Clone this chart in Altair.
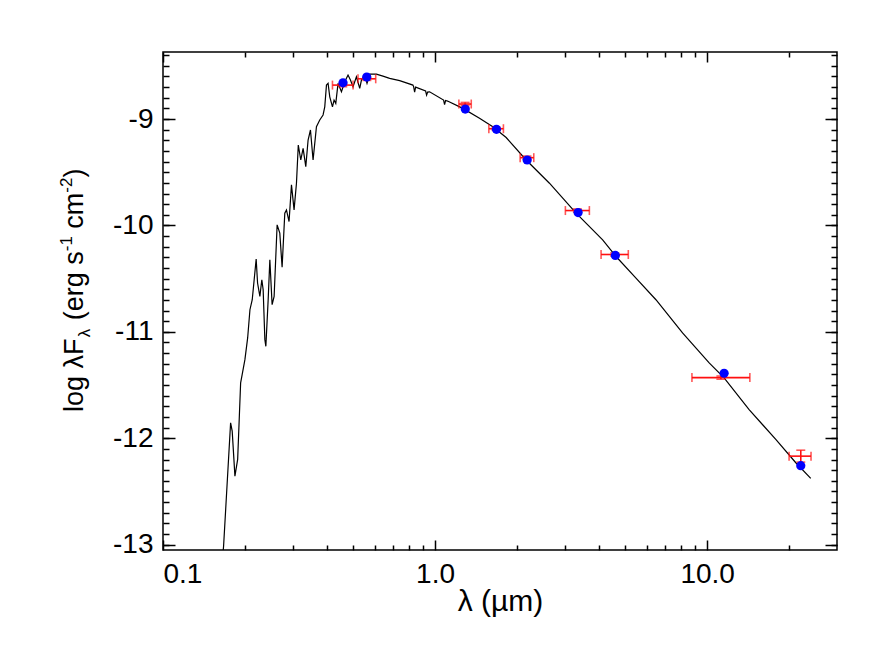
import altair as alt
import pandas as pd

# ---- model spectrum (wavelength in micron, log lambda F_lambda) ----
spec_lam = [0.1646, 0.1670, 0.1772, 0.1796, 0.1838, 0.1881, 0.1929, 0.1954, 0.2000, 0.2047,
            0.2087, 0.2128, 0.2163, 0.2200, 0.2226, 0.2270, 0.2308, 0.2334, 0.2368, 0.2388,
            0.2435, 0.2470, 0.2518, 0.2561, 0.2627, 0.2687, 0.2740, 0.2803, 0.2843, 0.2906,
            0.2966, 0.3032, 0.3094, 0.3142, 0.3209, 0.3273, 0.3348, 0.3414, 0.3483, 0.3561,
            0.3664, 0.3768, 0.3875, 0.3931, 0.3988, 0.4043, 0.4101, 0.4196, 0.4253, 0.4315,
            0.4399, 0.4527, 0.4655, 0.4787, 0.4885, 0.4994, 0.5139, 0.5285, 0.5362, 0.5513,
            0.5621, 0.5750, 0.6085, 0.6433, 0.6808, 0.7409, 0.8288, 0.8339, 0.8410, 0.8481,
            0.9229, 0.9308, 0.9388, 0.9545, 1.0745, 1.0836, 1.0927, 1.1112, 1.2647, 1.4564,
            1.6298, 1.8250, 2.161, 2.632, 3.298, 4.129, 4.624, 5.474, 6.481, 8.118,
            10.17, 11.54, 14.26, 17.87, 21.17, 24.02]
spec_logf = [-13.193, -13.012, -11.855, -11.933, -12.356, -12.199, -11.479, -11.401, -11.261, -11.057,
             -10.792, -10.698, -10.510, -10.316, -10.541, -10.667, -10.510, -10.604, -11.073, -11.136,
             -10.698, -10.323, -10.745, -10.667, -9.994, -10.072, -10.393, -9.885, -9.854, -9.963,
             -9.619, -9.854, -9.603, -9.244, -9.385, -9.275, -9.447, -9.197, -9.103, -9.385,
             -9.072, -9.009, -8.962, -8.885, -8.681, -8.665, -8.791, -8.885, -8.822, -8.853,
             -8.665, -8.744, -8.650, -8.587, -8.634, -8.697, -8.603, -8.712, -8.634, -8.587,
             -8.665, -8.578, -8.578, -8.597, -8.618, -8.639, -8.681, -8.695, -8.747, -8.700,
             -8.737, -8.775, -8.747, -8.744, -8.822, -8.864, -8.826, -8.831, -8.900, -8.993,
             -9.072, -9.174, -9.385, -9.603, -9.885, -10.135, -10.292, -10.495, -10.698, -11.010,
             -11.292, -11.432, -11.730, -12.011, -12.230, -12.377]

# ---- synthetic photometry (blue) ----
phot_lam = [0.4588, 0.5608, 1.291, 1.681, 2.180, 3.354, 4.597, 11.54, 22.08]
phot_logf = [-8.660, -8.606, -8.906, -9.097, -9.385, -9.879, -10.282, -11.389, -12.258]

# ---- observed photometry (red, with band widths and errors) ----
obs_lam = [0.4578, 0.5613, 1.289, 1.676, 2.176, 3.334, 4.572, 11.23, 22.08]
obs_lam_lo = [0.4196, 0.5208, 1.223, 1.576, 2.054, 3.012, 4.074, 8.79, 20.0]
obs_lam_hi = [0.4994, 0.6050, 1.358, 1.783, 2.305, 3.690, 5.130, 14.35, 24.08]
obs_logf = [-8.681, -8.622, -8.859, -9.091, -9.363, -9.860, -10.273, -11.430, -12.168]
obs_err = [0.015, 0.015, 0.015, 0.015, 0.015, 0.015, 0.015, 0.015, 0.056]

x_major = [0.1, 1.0, 10.0]
x_minor = [0.2, 0.3, 0.4, 0.5, 0.6, 0.7, 0.8, 0.9, 2, 3, 4, 5, 6, 7, 8, 9, 20]
y_major = [-13, -12, -11, -10, -9]
y_minor = [round(-13.0 + 0.1 * i, 1) for i in range(47)]

FONT = "Liberation Sans"
F_TICK = 28
F_XTITLE = 30
F_TITLE = 27

spec = pd.DataFrame({"lam": spec_lam, "logf": spec_logf})
phot = pd.DataFrame({"lam": phot_lam, "logf": phot_logf})
obs = pd.DataFrame({"lam": obs_lam, "lo": obs_lam_lo, "hi": obs_lam_hi, "logf": obs_logf,
                    "ylo": [f - e for f, e in zip(obs_logf, obs_err)],
                    "yhi": [f + e for f, e in zip(obs_logf, obs_err)]})

xs = alt.Scale(type="log", domain=[0.1, 30], nice=False)
ys = alt.Scale(domain=[-13.05, -8.37], nice=False, zero=False)


def tick_axis(orient, values, size, **kw):
    return alt.Axis(orient=orient, values=values, offset=-size, tickSize=size, tickWidth=1.5,
                    tickColor="black", domain=False, grid=False, title=None, **kw)


layers = []
# x axes (bottom labeled + major, bottom minor, top major, top minor)
layers.append(alt.Chart(spec).mark_point(opacity=0).encode(
    x=alt.X("lam:Q", scale=xs, axis=tick_axis(
        "bottom", x_major, 10, labels=True, labelFont=FONT, labelFontSize=F_TICK,
        labelColor="black", labelPadding=10, labelOverlap=False,
        labelExpr="format(datum.value, '.1f')"))))
layers.append(alt.Chart(spec).mark_point(opacity=0).encode(
    x=alt.X("lam:Q", scale=xs, axis=tick_axis("bottom", x_minor, 5, labels=False))))
layers.append(alt.Chart(spec).mark_point(opacity=0).encode(
    x=alt.X("lam:Q", scale=xs, axis=tick_axis("top", x_major, 10, labels=False))))
layers.append(alt.Chart(spec).mark_point(opacity=0).encode(
    x=alt.X("lam:Q", scale=xs, axis=tick_axis("top", x_minor, 5, labels=False))))
# y axes
layers.append(alt.Chart(spec).mark_point(opacity=0).encode(
    y=alt.Y("logf:Q", scale=ys, axis=tick_axis(
        "left", y_major, 12, labels=True, labelFont=FONT, labelFontSize=F_TICK,
        labelColor="black", labelPadding=10, labelOverlap=False,
        labelExpr="toString(datum.value)"))))
layers.append(alt.Chart(spec).mark_point(opacity=0).encode(
    y=alt.Y("logf:Q", scale=ys, axis=tick_axis("left", y_minor, 6, labels=False))))
layers.append(alt.Chart(spec).mark_point(opacity=0).encode(
    y=alt.Y("logf:Q", scale=ys, axis=tick_axis("right", y_major, 12, labels=False))))
layers.append(alt.Chart(spec).mark_point(opacity=0).encode(
    y=alt.Y("logf:Q", scale=ys, axis=tick_axis("right", y_minor, 6, labels=False))))

# spectrum line, with x-axis title
layers.append(alt.Chart(spec).mark_line(color="black", strokeWidth=1.2, clip=True).encode(
    x=alt.X("lam:Q", scale=xs, axis=alt.Axis(
        orient="bottom", values=x_major, labels=False, ticks=False, domain=False, grid=False,
        title="λ (µm)", titleFont=FONT, titleFontSize=F_XTITLE, titleFontWeight="normal",
        titleColor="black", titlePadding=36)),
    y=alt.Y("logf:Q", scale=ys, axis=None),
    order="lam:Q"))

red = "#ff1010"
layers.append(alt.Chart(obs).mark_rule(color=red, strokeWidth=1.6).encode(
    x=alt.X("lo:Q", scale=xs, axis=None), x2="hi:Q", y=alt.Y("logf:Q", scale=ys, axis=None)))
layers.append(alt.Chart(obs).mark_rule(color=red, strokeWidth=1.6).encode(
    x=alt.X("lam:Q", scale=xs, axis=None), y=alt.Y("ylo:Q", scale=ys, axis=None), y2="yhi:Q"))
for col in ["lo", "hi"]:
    layers.append(alt.Chart(obs).mark_tick(color=red, orient="vertical", size=9, thickness=1.6).encode(
        x=alt.X(f"{col}:Q", scale=xs, axis=None), y=alt.Y("logf:Q", scale=ys, axis=None)))
for col in ["ylo", "yhi"]:
    layers.append(alt.Chart(obs).mark_tick(color=red, orient="horizontal", size=9, thickness=1.6).encode(
        x=alt.X("lam:Q", scale=xs, axis=None), y=alt.Y(f"{col}:Q", scale=ys, axis=None)))

layers.append(alt.Chart(phot).mark_circle(color="#0000ff", opacity=1, size=85).encode(
    x=alt.X("lam:Q", scale=xs, axis=None), y=alt.Y("logf:Q", scale=ys, axis=None)))

# ---- rotated y title with sub/superscripts ----
W = {'l': .222, 'o': .556, 'g': .556, ' ': .278, 'λ': .55, 'F': .611, '(': .333, 'e': .556,
     'r': .333, 's': .5, '-': .333, '1': .556, '2': .556, 'c': .5, 'm': .833, ')': .333}
small = round(F_TITLE * 0.62)
# (text, font size, shift across baseline, leading space width in em of main font)
segments = [("log\u00a0λF", F_TITLE, 0, 0), ("λ", small, 7, 0), ("(erg\u00a0s", F_TITLE, 0, 1),
            ("-1", small, -11, 0), ("cm", F_TITLE, 0, 1), ("-2", small, -11, 0), (")", F_TITLE, 0, 0)]
base_x = -80
y_cursor = 360
for txt, fs, shift, lead in segments:
    y_cursor -= lead * W[' '] * F_TITLE
    layers.append(alt.Chart(pd.DataFrame({"t": [txt]})).mark_text(
        angle=270, align="left", baseline="alphabetic", font=FONT, fontSize=fs, color="black"
    ).encode(text="t:N", x=alt.value(base_x + shift), y=alt.value(y_cursor)))
    y_cursor -= sum(W.get(ch if ch != '\u00a0' else ' ', .55) for ch in txt) * fs

chart = alt.layer(*layers).resolve_axis(x="independent", y="independent").properties(
    width=674, height=498,
    autosize=alt.AutoSizeParams(type="none"),
    padding={"left": 155, "top": 44, "right": 40, "bottom": 90},
).configure_view(stroke="black", strokeWidth=1.5)

chart.save("out.html", embed_options={"renderer": "svg", "actions": False})
